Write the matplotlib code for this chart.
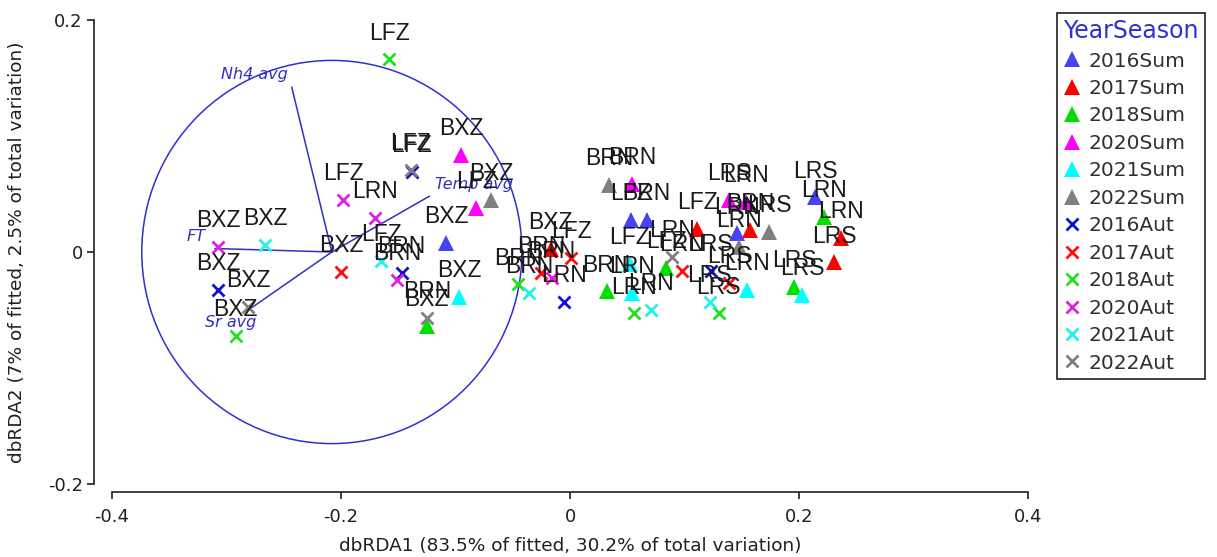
import matplotlib
matplotlib.use("Agg")
import matplotlib.pyplot as plt
from matplotlib.patches import Ellipse
from matplotlib.lines import Line2D

plt.rcParams['font.family'] = ['DejaVu Sans']

# Year/season groups, their symbols and colours
year_season = ['2016Sum', '2017Sum', '2018Sum', '2020Sum', '2021Sum', '2022Sum',
               '2016Aut', '2017Aut', '2018Aut', '2020Aut', '2021Aut', '2022Aut']
group_marker = ['^'] * 6 + ['x'] * 6
group_color = ['#4444f4', '#ff0000', '#00e000', '#ff00ff', '#00ffff', '#808080',
               '#1010d0', '#ff1010', '#20e020', '#e020e0', '#20f0f0', '#808080']

# Sample scores on the first two dbRDA axes
point_group = [
    '2016Sum', '2016Sum', '2016Sum', '2016Sum', '2016Sum',
    '2017Sum', '2017Sum', '2017Sum', '2017Sum', '2017Sum',
    '2018Sum', '2018Sum', '2018Sum', '2018Sum', '2018Sum',
    '2020Sum', '2020Sum', '2020Sum', '2020Sum', '2020Sum',
    '2021Sum', '2021Sum', '2021Sum', '2021Sum', '2021Sum',
    '2022Sum', '2022Sum', '2022Sum', '2022Sum',
    '2016Aut', '2016Aut', '2016Aut', '2016Aut', '2016Aut',
    '2017Aut', '2017Aut', '2017Aut', '2017Aut', '2017Aut',
    '2018Aut', '2018Aut', '2018Aut', '2018Aut', '2018Aut',
    '2020Aut', '2020Aut', '2020Aut', '2020Aut', '2020Aut',
    '2021Aut', '2021Aut', '2021Aut', '2021Aut', '2021Aut',
    '2022Aut', '2022Aut', '2022Aut', '2022Aut',
]
point_site = [
    'BXZ', 'LFZ', 'BRN', 'LRN', 'LRS',
    'BXZ', 'LFZ', 'BRN', 'LRN', 'LRS',
    'BXZ', 'BRN', 'LFZ', 'LRN', 'LRS',
    'BXZ', 'LFZ', 'BRN', 'LRS', 'LRN',
    'BXZ', 'LRN', 'LFZ', 'LRN', 'LRS',
    'BXZ', 'BRN', 'LRS', 'LRN',
    'LFZ', 'BRN', 'BXZ', 'LRN', 'LRS',
    'BXZ', 'LFZ', 'BRN', 'LRN', 'LRS',
    'LFZ', 'BXZ', 'BRN', 'LRN', 'LRS',
    'BXZ', 'LFZ', 'LRN', 'BRN', 'BRN',
    'BXZ', 'LFZ', 'BRN', 'LRN', 'LRS',
    'LFZ', 'BXZ', 'BRN', 'LRN',
]
dbrda1 = [
    -0.108, 0.053, 0.067, 0.146, 0.214,
    -0.017, 0.111, 0.157, 0.237, 0.231,
    -0.125, 0.032, 0.084, 0.222, 0.196,
    -0.095, -0.082, 0.054, 0.139, 0.154,
    -0.097, 0.054, 0.052, 0.155, 0.203,
    -0.069, 0.034, 0.174, 0.148,
    -0.138, -0.147, -0.307, -0.005, 0.123,
    -0.200, 0.001, -0.025, 0.098, 0.139,
    -0.158, -0.292, -0.045, 0.056, 0.130,
    -0.307, -0.198, -0.170, -0.151, -0.016,
    -0.266, -0.165, -0.036, 0.071, 0.122,
    -0.139, -0.281, -0.125, 0.089,
]
dbrda2 = [
    0.008, 0.028, 0.028, 0.016, 0.047,
    0.003, 0.020, 0.019, 0.012, -0.009,
    -0.064, -0.034, -0.014, 0.030, -0.030,
    0.084, 0.038, 0.059, 0.045, 0.043,
    -0.039, -0.035, -0.010, -0.033, -0.037,
    0.045, 0.058, 0.017, 0.004,
    0.069, -0.018, -0.033, -0.043, -0.016,
    -0.017, -0.005, -0.018, -0.016, -0.027,
    0.166, -0.072, -0.028, -0.053, -0.053,
    0.004, 0.045, 0.029, -0.024, -0.022,
    0.006, -0.008, -0.035, -0.050, -0.043,
    0.071, -0.047, -0.057, -0.004,
]

# Environmental vectors (end points), drawn from a common origin
vector_names = ['Nh4 avg', 'Temp avg', 'FT', 'Sr avg']
vector_x = [-0.243, -0.123, -0.310, -0.278]
vector_y = [0.142, 0.048, 0.003, -0.048]
vector_label_x = [-0.276, -0.084, -0.327, -0.296]
vector_label_y = [0.153, 0.058, 0.013, -0.061]
origin = (-0.208, 0.0)
circle_radius = 0.166

W, H = 1217, 557
fig = plt.figure(figsize=(W / 100, H / 100), dpi=100)
ax = fig.add_axes([112 / W, (H - 484) / H, (1028 - 112) / W, (484 - 20) / H])
ax.set_xlim(-0.4, 0.4)
ax.set_ylim(-0.2, 0.2)

for s in ('top', 'right'):
    ax.spines[s].set_visible(False)
ax.spines['left'].set_position(('outward', 13))
ax.spines['bottom'].set_position(('outward', 6))
ax.spines['left'].set_bounds(-0.2, 0.2)
ax.spines['bottom'].set_bounds(-0.4, 0.4)
for s in ('left', 'bottom'):
    ax.spines[s].set_linewidth(1.2)
    ax.spines[s].set_color('#202020')

ax.set_xticks([-0.4, -0.2, 0, 0.2, 0.4])
ax.set_xticklabels(['-0.4', '-0.2', '0', '0.2', '0.4'])
ax.set_yticks([-0.2, 0, 0.2])
ax.set_yticklabels(['-0.2', '0', '0.2'])
ax.tick_params(direction='out', length=5, width=1.2, labelsize=13,
               colors='#202020')
ax.tick_params(axis='x', pad=6)
ax.tick_params(axis='y', pad=3)
ax.set_xlabel('dbRDA1 (83.5% of fitted, 30.2% of total variation)',
              fontsize=13.3, color='#202020')
ax.set_ylabel('dbRDA2 (7% of fitted, 2.5% of total variation)',
              fontsize=13.3, color='#202020')
ax.xaxis.set_label_coords(0.5, (484 - 537) / 464)
ax.yaxis.set_label_coords((26 - 112) / 916, 0.5)

# Correlation circle and vectors
ax.add_patch(Ellipse(origin, 2 * circle_radius, 2 * circle_radius * 0.995,
                     fill=False, edgecolor='#3030d0', lw=1.1, zorder=1))
for vx, vy, name, lx, ly in zip(vector_x, vector_y, vector_names,
                                vector_label_x, vector_label_y):
    ax.plot([origin[0], vx], [origin[1], vy], color='#3030c0', lw=1.1, zorder=1)
    ax.text(lx, ly, name, color='#3030c0', fontsize=11.5, style='italic',
            ha='center', va='center', zorder=1)

# Sample points
for g, m, c in zip(year_season, group_marker, group_color):
    xs = [x for x, pg in zip(dbrda1, point_group) if pg == g]
    ys = [y for y, pg in zip(dbrda2, point_group) if pg == g]
    if m == '^':
        ax.plot(xs, ys, linestyle='none', marker='^', ms=12, color=c,
                markeredgewidth=0, zorder=3)
    else:
        ax.plot(xs, ys, linestyle='none', marker='x', ms=9, color=c,
                markeredgewidth=2, zorder=3)

for x, y, site in zip(dbrda1, dbrda2, point_site):
    ax.annotate(site, (x, y), xytext=(0, 19), textcoords='offset points',
                ha='center', va='center', fontsize=16.5, color='#1a1a1a',
                family='Liberation Sans', zorder=4)

# Legend
handles = []
for g, m, c in zip(year_season, group_marker, group_color):
    if m == '^':
        h = Line2D([], [], linestyle='none', marker='^', ms=12, color=c,
                   markeredgewidth=0, label=g)
    else:
        h = Line2D([], [], linestyle='none', marker='x', ms=9, color=c,
                   markeredgewidth=2, label=g)
    handles.append(h)
leg = fig.legend(handles=handles, title='YearSeason', loc='upper left',
                 bbox_to_anchor=(1057 / W, 1 - 13 / H), borderaxespad=0,
                 fontsize=14.5, title_fontsize=17, fancybox=False,
                 edgecolor='#202020', framealpha=1, labelspacing=0.42,
                 handlelength=0.9, handletextpad=0.35, borderpad=0.3,
                 alignment='left')
leg.get_title().set_color('#3030d0')
leg.get_frame().set_linewidth(1.2)
for t in leg.get_texts():
    t.set_color('#303030')

fig.savefig('out.png', dpi=100)
